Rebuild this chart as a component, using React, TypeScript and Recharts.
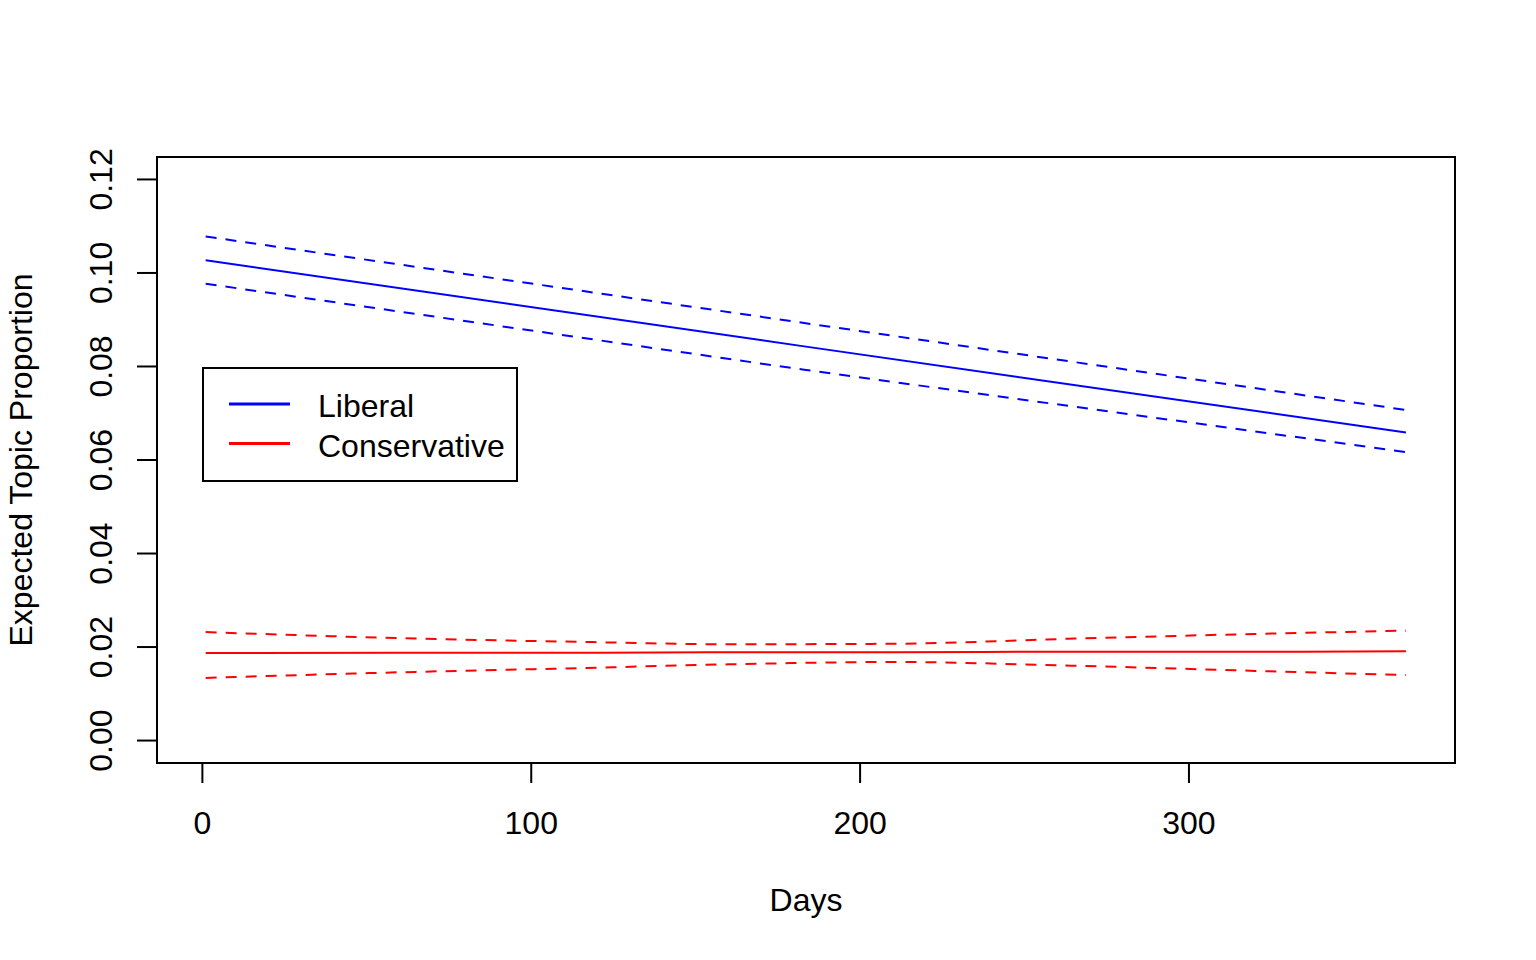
import React from 'react';
import { LineChart, Line, XAxis, YAxis, ReferenceArea, Legend, Label } from 'recharts';

// Liberal estimate (straight lines)
const libDays = [1, 183, 366];
const libMean = [0.1027, 0.0843, 0.0659];
const libUpper = [0.1078, 0.0893, 0.0707];
const libLower = [0.0977, 0.0793, 0.0617];

// Conservative estimate with its bowed confidence band
const conDays = [1, 60, 115, 160, 210, 265, 320, 366];
const conMean = [0.0187, 0.0188, 0.0188, 0.0189, 0.0189, 0.019, 0.019, 0.0191];
const conUpper = [0.0232, 0.0219, 0.0211, 0.0206, 0.0207, 0.0218, 0.0228, 0.0235];
const conLower = [0.0134, 0.0146, 0.0155, 0.0163, 0.0168, 0.016, 0.0149, 0.014];

const xTicks = [0, 100, 200, 300];
const yTicks = [0, 0.02, 0.04, 0.06, 0.08, 0.1, 0.12];

const legendNames = ['Liberal', 'Conservative'];

const BLUE = '#0000FF';
const RED = '#FF0000';
const legendColors = [BLUE, RED];
const FONT = '"Liberation Sans", Arial, Helvetica, sans-serif';
const FS = 32;

// plot box limits as measured on the original (R pads the range by ~4%)
const xDomain: [number, number] = [-13.8, 380.9];
const yDomain: [number, number] = [-0.04 * 0.12, 0.12 * 1.04];

const toRows = (days: number[], vals: number[]) => days.map((day, i) => ({ day, v: vals[i] }));

const XTick = ({ x, y, payload }: any) => (
  <text x={x} y={y + 51} textAnchor="middle" fontSize={FS} fontFamily={FONT} fill="#000">
    {payload.value}
  </text>
);

const YTick = ({ x, y, payload }: any) => (
  <text
    x={x - 25}
    y={y}
    transform={`rotate(-90 ${x - 25} ${y})`}
    textAnchor="middle"
    fontSize={FS}
    fontFamily={FONT}
    fill="#000"
  >
    {Number(payload.value).toFixed(2)}
  </text>
);

const renderLegend = () => (
  <svg width={316} height={115} style={{ display: 'block' }}>
    <rect x={1} y={1} width={314} height={113} fill="#fff" stroke="#000" strokeWidth={2} />
    {legendNames.map((name, i) => (
      <g key={name}>
        <line x1={27} x2={88} y1={37 + 39.5 * i} y2={37 + 39.5 * i} stroke={legendColors[i]} strokeWidth={3} />
        <text x={116} y={50 + 39.5 * i} fontSize={FS} fontFamily={FONT} fill="#000">
          {name}
        </text>
      </g>
    ))}
  </svg>
);

export default function App() {
  return (
    <div style={{ position: 'absolute', left: 0, top: 0, width: 1536, height: 960, background: '#fff' }}>
      <LineChart width={1536} height={960} margin={{ top: 157, right: 81, bottom: 137, left: 97 }}>
        <XAxis
          dataKey="day"
          type="number"
          domain={xDomain}
          allowDataOverflow
          ticks={xTicks}
          height={60}
          axisLine={false}
          tickSize={20}
          tickMargin={0}
          tickLine={{ stroke: '#000', strokeWidth: 2 }}
          tick={XTick}
        >
          <Label
            content={({ viewBox }: any) => (
              <text
                x={viewBox.x + viewBox.width / 2}
                y={viewBox.y + 148}
                textAnchor="middle"
                fontSize={FS}
                fontFamily={FONT}
                fill="#000"
              >
                Days
              </text>
            )}
          />
        </XAxis>
        <YAxis
          type="number"
          domain={yDomain}
          allowDataOverflow
          ticks={yTicks}
          width={60}
          axisLine={false}
          tickSize={20}
          tickMargin={0}
          tickLine={{ stroke: '#000', strokeWidth: 2 }}
          tick={YTick}
        >
          <Label
            content={({ viewBox }: any) => {
              const cx = viewBox.x - 65;
              const cy = viewBox.y + viewBox.height / 2;
              return (
                <text
                  x={cx}
                  y={cy}
                  transform={`rotate(-90 ${cx} ${cy})`}
                  textAnchor="middle"
                  fontSize={FS}
                  fontFamily={FONT}
                  fill="#000"
                >
                  Expected Topic Proportion
                </text>
              );
            }}
          />
        </YAxis>

        <Line data={toRows(libDays, libMean)} dataKey="v" name="Liberal" type="linear" stroke={BLUE} strokeWidth={2} dot={false} isAnimationActive={false} />
        <Line data={toRows(libDays, libUpper)} dataKey="v" name="Liberal upper" type="linear" stroke={BLUE} strokeWidth={2} strokeDasharray="11 9" dot={false} isAnimationActive={false} />
        <Line data={toRows(libDays, libLower)} dataKey="v" name="Liberal lower" type="linear" stroke={BLUE} strokeWidth={2} strokeDasharray="11 9" dot={false} isAnimationActive={false} />

        <Line data={toRows(conDays, conMean)} dataKey="v" name="Conservative" type="monotone" stroke={RED} strokeWidth={2} dot={false} isAnimationActive={false} />
        <Line data={toRows(conDays, conUpper)} dataKey="v" name="Conservative upper" type="monotone" stroke={RED} strokeWidth={2} strokeDasharray="11 9" dot={false} isAnimationActive={false} />
        <Line data={toRows(conDays, conLower)} dataKey="v" name="Conservative lower" type="monotone" stroke={RED} strokeWidth={2} strokeDasharray="11 9" dot={false} isAnimationActive={false} />

        <ReferenceArea
          x1={xDomain[0]}
          x2={xDomain[1]}
          y1={yDomain[0]}
          y2={yDomain[1]}
          fill="none"
          stroke="#000"
          strokeWidth={2}
          ifOverflow="visible"
        />

        <Legend
          content={renderLegend}
          layout="horizontal"
          verticalAlign="middle"
          align="center"
          width={316}
          wrapperStyle={{ left: 202, top: 367, width: 316, height: 115 }}
        />
      </LineChart>
    </div>
  );
}
